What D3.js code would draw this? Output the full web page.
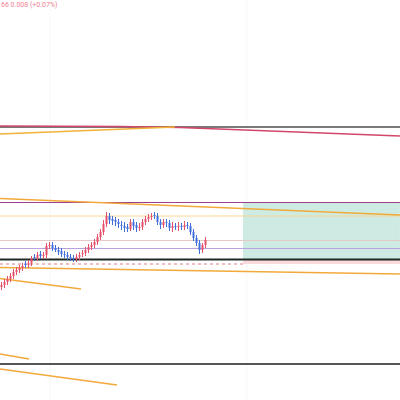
<!DOCTYPE html>
<html><head><meta charset="utf-8">
<script src="https://cdn.jsdelivr.net/npm/d3@7"></script>
<style>html,body{margin:0;padding:0;background:#fff;overflow:hidden}</style>
</head><body>
<svg id="c" width="400" height="400"></svg>
<script>
// OHLC data (bar index 0..68)
const opens  = [11.326,11.330,11.336,11.342,11.348,11.356,11.360,11.364,11.372,11.370,11.374,11.386,11.384,11.392,11.388,11.390,11.408,11.410,11.404,11.400,11.398,11.392,11.390,11.386,11.384,11.382,11.386,11.392,11.394,11.400,11.406,11.410,11.416,11.426,11.436,11.452,11.468,11.462,11.460,11.456,11.450,11.448,11.446,11.442,11.456,11.450,11.444,11.446,11.456,11.462,11.466,11.470,11.468,11.456,11.450,11.456,11.454,11.444,11.448,11.446,11.448,11.446,11.450,11.448,11.436,11.424,11.414,11.400,11.410];
const highs  = [11.336,11.342,11.348,11.354,11.362,11.366,11.370,11.374,11.378,11.380,11.388,11.392,11.396,11.398,11.396,11.414,11.416,11.416,11.410,11.406,11.404,11.398,11.396,11.392,11.390,11.392,11.396,11.400,11.406,11.412,11.416,11.422,11.432,11.442,11.460,11.476,11.474,11.468,11.466,11.462,11.458,11.456,11.452,11.462,11.462,11.456,11.454,11.462,11.468,11.472,11.474,11.476,11.474,11.462,11.462,11.462,11.460,11.456,11.454,11.456,11.454,11.458,11.456,11.454,11.442,11.430,11.420,11.414,11.426];
const lows   = [11.320,11.324,11.330,11.336,11.342,11.350,11.354,11.358,11.364,11.364,11.368,11.378,11.378,11.382,11.382,11.384,11.402,11.398,11.396,11.390,11.386,11.384,11.380,11.378,11.376,11.376,11.380,11.386,11.388,11.394,11.400,11.404,11.410,11.420,11.430,11.446,11.452,11.450,11.448,11.444,11.440,11.436,11.436,11.438,11.440,11.436,11.438,11.440,11.450,11.456,11.460,11.462,11.450,11.442,11.444,11.446,11.438,11.436,11.440,11.438,11.440,11.440,11.442,11.430,11.418,11.408,11.392,11.394,11.404];
const closes = [11.330,11.336,11.342,11.348,11.356,11.360,11.364,11.368,11.370,11.374,11.382,11.384,11.390,11.388,11.390,11.408,11.410,11.404,11.400,11.396,11.392,11.390,11.386,11.384,11.382,11.386,11.390,11.394,11.400,11.406,11.410,11.416,11.426,11.436,11.452,11.468,11.460,11.458,11.456,11.452,11.448,11.444,11.442,11.456,11.448,11.444,11.446,11.456,11.462,11.466,11.468,11.468,11.456,11.450,11.456,11.454,11.444,11.448,11.446,11.448,11.446,11.450,11.448,11.436,11.424,11.414,11.400,11.410,11.420];

// Horizontal levels (price)
const hLevels = [
  {p:11.646, c:"#4d4d4d", w:1.5},
  {p:11.495, c:"#9b3f8f", w:1.2},
  {p:11.468, c:"#f6d68e", w:1},
  {p:11.419, c:"#e6c9c9", w:1},
  {p:11.403, c:"#b9a0e2", w:1.2},
  {p:11.381, c:"#1f2a24", w:2},
  {p:11.172, c:"#555555", w:2}
];
// Trend lines: [barIndex, price] points
const trendLines = [
  {pts:[[-0.5,11.648],[39.5,11.647],[59.5,11.645],[132.8,11.628]], c:"#d2466a", w:1.3},
  {pts:[[-0.5,11.632],[57.8,11.646]], c:"#f2b236", w:1.3},
  {pts:[[-0.5,11.503],[132.8,11.470]], c:"#f2a93b", w:1.5},
  {pts:[[-0.5,11.365],[132.8,11.352]], c:"#f2a93b", w:1.5},
  {pts:[[-0.5,11.343],[26.5,11.322]], c:"#f2a93b", w:1.3},
  {pts:[[-0.5,11.192],[9.2,11.182]], c:"#f2a93b", w:1.3},
  {pts:[[-0.5,11.162],[38.5,11.130]], c:"#f2a93b", w:1.3}
];
// Position tool
const posStart = 80.5, posEnd = 132.8;
const target = 11.495, entry = 11.381, stop = 11.372;
const headerText = "66 0.008 (+0.07%)";

const svg = d3.select("#c");
const x = d3.scaleLinear().domain([-0.5, 132.83]).range([0, 400]);
const y = d3.scaleLinear().domain([11.900, 11.100]).range([0, 400]);

// faint grid
svg.selectAll(".vg").data([16.2, 81.8]).enter().append("line")
  .attr("x1", d => x(d)).attr("x2", d => x(d)).attr("y1", 0).attr("y2", 400)
  .attr("stroke", "#f7f7f7").attr("stroke-width", 1);

// position zones
svg.append("rect").attr("x", x(posStart)).attr("width", x(posEnd) - x(posStart))
  .attr("y", y(target)).attr("height", y(entry) - y(target)).attr("fill", "#cdebe3");
svg.append("rect").attr("x", x(posStart)).attr("width", x(posEnd) - x(posStart))
  .attr("y", y(entry)).attr("height", y(stop) - y(entry)).attr("fill", "#f9dadd");
svg.append("line").attr("x1", 0).attr("x2", x(posStart)).attr("y1", y(stop)).attr("y2", y(stop))
  .attr("stroke", "#e57d86").attr("stroke-width", 1).attr("stroke-dasharray", "3,3");

// horizontal levels
svg.selectAll(".hl").data(hLevels).enter().append("line")
  .attr("x1", 0).attr("x2", 400).attr("y1", d => y(d.p)).attr("y2", d => y(d.p))
  .attr("stroke", d => d.c).attr("stroke-width", d => d.w);

// trend lines
const line = d3.line().x(d => x(d[0])).y(d => y(d[1]));
svg.selectAll(".tl").data(trendLines).enter().append("path")
  .attr("d", d => line(d.pts)).attr("fill", "none")
  .attr("stroke", d => d.c).attr("stroke-width", d => d.w);

// candles
const bars = closes.map((c, i) => ({i, o: opens[i], h: highs[i], l: lows[i], c}));
const up = "#e5506a", down = "#3f6fdc";
const g = svg.append("g");
g.selectAll(".wick").data(bars).enter().append("line")
  .attr("x1", d => x(d.i)).attr("x2", d => x(d.i))
  .attr("y1", d => y(d.h)).attr("y2", d => y(d.l))
  .attr("stroke", d => d.c >= d.o ? up : down).attr("stroke-width", 1);
g.selectAll(".body").data(bars).enter().append("rect")
  .attr("x", d => x(d.i) - 1).attr("width", 2)
  .attr("y", d => y(Math.max(d.o, d.c)))
  .attr("height", d => Math.max(1, Math.abs(y(d.o) - y(d.c))))
  .attr("fill", d => d.c >= d.o ? up : down);

// header
svg.append("text").attr("x", 1).attr("y", 7).text(headerText)
  .attr("font-family", "Roboto, sans-serif").attr("font-size", 7).attr("fill", "#ef7f93");
</script>
</body></html>
